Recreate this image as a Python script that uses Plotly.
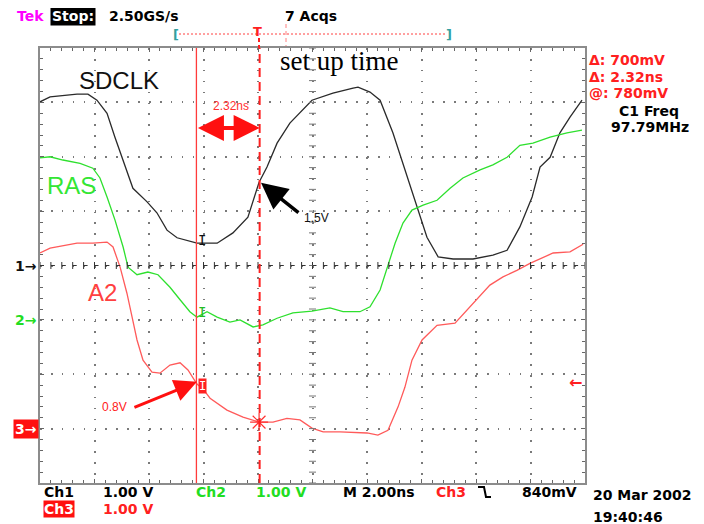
import numpy as np
import plotly.graph_objects as go

# ---------------- data (time in ns, voltage in V; 2 ns/div, 1 V/div) ----------------
t_sdclk = [0, 0.37, 1.36, 1.76, 2.09, 2.46, 2.75, 3.12, 3.41, 3.93, 4.29, 4.66, 5.03, 5.76, 6.50,
           7.08, 7.63, 8.04, 8.33, 8.70, 9.17, 9.98, 10.75, 11.49, 11.67, 12.11, 12.48, 12.95,
           13.47, 13.83, 14.20, 14.61, 15.16, 15.89, 16.62, 17.14, 17.61, 18.06, 18.35, 18.72,
           19.08, 19.45, 19.89]
v_sdclk = [3.01, 3.10, 3.15, 3.15, 3.04, 2.80, 2.36, 1.81, 1.42, 1.17, 0.97, 0.65, 0.51, 0.41, 0.41,
           0.60, 0.89, 1.53, 1.81, 2.25, 2.62, 3.04, 3.17, 3.26, 3.28, 3.19, 3.04, 2.44,
           1.63, 1.08, 0.52, 0.16, 0.12, 0.12, 0.19, 0.28, 0.71, 1.26, 1.81, 1.99,
           2.44, 2.73, 3.04]

t_ras = [0, 0.37, 0.84, 1.47, 1.94, 2.20, 2.46, 2.75, 3.05, 3.23, 3.56, 3.96, 4.33, 4.77, 5.14,
         5.50, 5.76, 6.13, 6.50, 6.97, 7.34, 7.82, 8.18, 8.70, 9.28, 9.98, 10.64, 11.12, 11.74,
         12.11, 12.48, 12.77, 13.03, 13.32, 13.65, 14.06, 14.57, 15.05, 15.52, 16.15, 16.62,
         17.14, 17.61, 18.09, 18.72, 19.34, 19.89]
v_ras = [2.98, 3.00, 2.94, 2.88, 2.79, 2.61, 2.26, 1.84, 1.34, 0.97, 0.83, 0.88, 0.83, 0.60, 0.37,
         0.15, 0.05, 0.15, 0.05, -0.04, 0.00, -0.13, -0.09, 0.03, 0.13, 0.16, 0.22, 0.15, 0.15,
         0.24, 0.55, 1.01, 1.41, 1.78, 2.02, 2.11, 2.20, 2.42, 2.61, 2.76, 2.85,
         2.99, 3.21, 3.25, 3.36, 3.44, 3.49]

t_a2 = [0, 0.37, 1.36, 1.94, 2.46, 2.68, 2.94, 3.19, 3.38, 3.56, 3.78, 4.11, 4.40, 4.77, 5.14,
        5.43, 5.76, 5.98, 6.24, 6.86, 7.45, 8.04, 8.55, 9.06, 9.54, 9.98, 10.39, 11.01, 12.00,
        12.40, 12.77, 13.14, 13.39, 13.65, 14.02, 14.57, 15.23, 15.89, 16.51, 16.99, 17.50,
        17.98, 18.83, 19.45, 19.93]
v_a2 = [3.23, 3.32, 3.41, 3.41, 3.43, 3.34, 2.97, 2.49, 2.05, 1.63, 1.26, 1.04, 1.02, 1.17, 1.21,
        1.08, 0.82, 0.73, 0.56, 0.34, 0.21, 0.12, 0.12, 0.19, 0.16, 0.01, -0.06, -0.06, -0.08,
        -0.12, -0.03, 0.40, 0.76, 1.26, 1.63, 1.90, 1.94, 2.31, 2.64, 2.79, 2.91,
        3.04, 3.23, 3.25, 3.39]

# channel ground positions (divisions from centre), 1 V/div
ch_offsets = {"SDCLK": 0, "RAS": -1, "A2": -3}
cursor_t = [5.74, 8.06]
trigger_level = 0.84

# ---------------- styles ----------------
C_BLACK = "#2a2a2a"
C_GREEN = "#2ee02e"
C_RED = "#ff5a5a"
SCOPE = "DejaVu Sans"
SANS = "Liberation Sans"

fig = go.Figure()

series = [("SDCLK", t_sdclk, v_sdclk, C_BLACK),
          ("RAS", t_ras, v_ras, C_GREEN),
          ("A2", t_a2, v_a2, C_RED)]
for name, t, v, col in series:
    off = ch_offsets[name]
    fig.add_trace(go.Scatter(x=t, y=[vi + off for vi in v], mode="lines", name=name,
                             line=dict(color=col, width=1.3), hoverinfo="skip", showlegend=False))

# centre crosshair tick marks
hx = np.arange(0, 20.001, 0.4)
fig.add_trace(go.Scatter(x=hx, y=[0] * len(hx), mode="markers", hoverinfo="skip", showlegend=False,
                         marker=dict(symbol="line-ns", size=5, color="#333", line=dict(color="#333", width=1))))
vy = np.arange(-4, 4.001, 0.2)
fig.add_trace(go.Scatter(x=[10] * len(vy), y=vy, mode="markers", hoverinfo="skip", showlegend=False,
                         marker=dict(symbol="line-ew", size=5, color="#777", line=dict(color="#777", width=1))))

# asterisk marker on A2 at second cursor
fig.add_trace(go.Scatter(x=[8.04], y=[0.12 + ch_offsets["A2"]], mode="markers", hoverinfo="skip",
                         showlegend=False,
                         marker=dict(symbol="asterisk-open", size=15, color="#ff3030",
                                     line=dict(color="#ff3030", width=1.2))))

# The page body has an 8px margin, so the figure is 8px smaller and everything is
# laid out in page pixels relative to the plot frame (40..585 x 48..483).
OFF = 8


def PX(px):
    return (px - 40) / 545.0


def PY(py):
    return (483 - py) / 435.0


ann = []


def ptxt(text, px, py, size=14, color="black", family=SCOPE, anchor="center", bg=None, bold=True, pad=0):
    ann.append(dict(text=("<b>%s</b>" % text) if bold else text, xref="paper", yref="paper",
                    x=PX(px), y=PY(py), xanchor=anchor, yanchor="middle", showarrow=False,
                    font=dict(size=size, color=color, family=family),
                    bgcolor=bg, borderpad=pad))


def dtxt(text, x, y, size=14, color="black", family=SANS, bg=None, bold=False):
    ann.append(dict(text=("<b>%s</b>" % text) if bold else text, xref="x", yref="y",
                    x=x, y=y, xanchor="center", yanchor="middle", showarrow=False,
                    font=dict(size=size, color=color, family=family), bgcolor=bg, borderpad=0))


# top status line
ptxt("Tek", 30, 16, size=14, color="#ff00ff")
ptxt("Stop:", 73, 16, size=14, color="white", bg="black", pad=1)
ptxt("2.50GS/s", 144, 16, size=14)
ptxt("7 Acqs", 311, 16, size=14)
ptxt("[", 176, 34, size=13, color="#33a0a0")
ptxt("]", 449, 34, size=13, color="#33a0a0")
ptxt("T", 257, 31, size=13, color="#ff2020")

# right readouts
ptxt("Δ: 700mV", 588, 60, size=14, color="#ff2020", anchor="left")
ptxt("Δ: 2.32ns", 588, 77, size=14, color="#ff2020", anchor="left")
ptxt("@: 780mV", 588, 93, size=14, color="#ff2020", anchor="left")
ptxt("C1 Freq", 649, 111, size=14)
ptxt("97.79MHz", 650, 127, size=14)

# bottom readouts
ptxt("Ch1", 43, 492, size=14, anchor="left")
ptxt("1.00 V", 102, 492, size=14, anchor="left")
ptxt("Ch2", 195, 492, size=14, color="#22dd22", anchor="left")
ptxt("1.00 V", 255, 492, size=14, color="#22dd22", anchor="left")
ptxt("M 2.00ns", 342, 492, size=14, anchor="left")
ptxt("Ch3", 435, 492, size=14, color="#ff2020", anchor="left")
ptxt("840mV", 521, 492, size=14, anchor="left")
ptxt("20 Mar 2002", 592, 495, size=14, anchor="left")
ptxt("19:40:46", 592, 517, size=14, anchor="left")
ptxt("Ch3", 43, 509, size=14, color="white", bg="#ff1010", anchor="left")
ptxt("1.00 V", 102, 509, size=14, color="#ff2020", anchor="left")

# channel ground markers (left) and trigger level (right)
for lab, off, col, bg in [("1→", 0, "#111", None), ("2→", -1, "#22dd22", None), ("3→", -3, "white", "#ff1010")]:
    ann.append(dict(text="<b>%s</b>" % lab, xref="paper", yref="y", x=0, y=off, xanchor="right",
                    yanchor="middle", xshift=-1, showarrow=False, bgcolor=bg, borderpad=1,
                    font=dict(size=14, color=col, family=SCOPE)))
ann.append(dict(text="<b>←</b>", xref="paper", yref="y", x=1, y=ch_offsets["A2"] + trigger_level,
                xanchor="right", yanchor="middle", xshift=-1, showarrow=False,
                font=dict(size=16, color="#ff2020", family=SCOPE)))

# trace labels
dtxt("SDCLK", 2.90, 3.41, size=24, color="#111")
dtxt("RAS", 1.14, 1.48, size=24, color="#33e633")
dtxt("A2", 2.28, -0.49, size=24, color="#ff4040")
dtxt("set up time", 10.97, 3.76, size=27, color="black", family="Liberation Serif")
dtxt("2.32ns", 7.01, 2.93, size=12, color="#ff3030")
dtxt("1.5V", 10.13, 0.87, size=12, color="#111")
dtxt("0.8V", 2.75, -2.60, size=12, color="#ff2020")

# cursor readout marks
dtxt("I", 5.94, 0.47, size=14, color="#111", family="DejaVu Sans Mono")
dtxt("I", 5.94, -0.85, size=14, color="#22bb22", family="DejaVu Sans Mono")
dtxt("I", 5.98, -2.21, size=12, color="white", family="DejaVu Sans Mono", bg="#ff2020")

# arrows
ann.append(dict(x=8.11, y=1.52, ax=9.54, ay=0.95, xref="x", yref="y", axref="x", ayref="y", text="",
                showarrow=True, arrowhead=2, arrowsize=1.5, arrowwidth=3.5, arrowcolor="black"))
ann.append(dict(x=5.76, y=-2.14, ax=3.41, ay=-2.62, xref="x", yref="y", axref="x", ayref="y", text="",
                showarrow=True, arrowhead=2, arrowsize=1.5, arrowwidth=3, arrowcolor="#ff1010"))
ann.append(dict(x=cursor_t[1], y=2.53, ax=cursor_t[0], ay=2.53, xref="x", yref="y", axref="x", ayref="y",
                text="", showarrow=True, arrowhead=2, startarrowhead=2, arrowside="end+start",
                arrowsize=1.3, startarrowsize=1.3, arrowwidth=4, arrowcolor="#ff1010"))

shapes = [
    # centre horizontal crosshair (dashed black)
    dict(type="line", xref="x", yref="y", x0=0, x1=20, y0=0, y1=0,
         line=dict(color="#333", width=1.2, dash="4px,6.9px")),
    # cursors
    dict(type="line", xref="x", yref="y", x0=cursor_t[0], x1=cursor_t[0], y0=-4, y1=4,
         line=dict(color="#ff3b3b", width=1.3)),
    dict(type="line", xref="x", yref="y", x0=cursor_t[1], x1=cursor_t[1], y0=-4, y1=4,
         line=dict(color="#ff2020", width=2, dash="9px,5px")),
    # record bracket line at top
    dict(type="line", xref="paper", yref="paper", x0=PX(179), x1=PX(447), y0=PY(34), y1=PY(34),
         line=dict(color="#ff4040", width=1, dash="2px,2px")),
    dict(type="line", xref="paper", yref="paper", x0=PX(286), x1=PX(286), y0=PY(24), y1=PY(46),
         line=dict(color="#ff8080", width=1, dash="4px,3px")),
    dict(type="line", xref="paper", yref="paper", x0=PX(259), x1=PX(259), y0=PY(38), y1=PY(48),
         line=dict(color="#ff2020", width=2, dash="4px,3px")),
    # falling-edge trigger symbol
    dict(type="path", xref="paper", yref="paper",
         path="M %f,%f L %f,%f L %f,%f L %f,%f" % (PX(478), PY(487), PX(484), PY(487),
                                                    PX(486), PY(497), PX(491), PY(497)),
         line=dict(color="black", width=2)),
]

axis_common = dict(showgrid=True, gridcolor="#7a7a7a", gridwidth=1.6, griddash="1.6px,9.3px",
                   zeroline=False, showline=True, linecolor="#8c8c8c", linewidth=2, mirror="allticks",
                   ticks="inside", ticklen=4, tickcolor="#666", showticklabels=False, fixedrange=True)

fig.update_layout(
    width=704 - OFF, height=524 - OFF,
    margin=dict(l=40 - OFF, r=119, t=48 - OFF, b=41),
    paper_bgcolor="white", plot_bgcolor="white",
    xaxis=dict(range=[0, 20], dtick=2, tick0=0,
               minor=dict(dtick=0.4, ticks="inside", ticklen=3, tickcolor="#666", showgrid=False),
               **axis_common),
    yaxis=dict(range=[-4, 4], dtick=1, tick0=0,
               minor=dict(dtick=0.2, ticks="inside", ticklen=3, tickcolor="#666", showgrid=False),
               **axis_common),
    annotations=ann, shapes=shapes, showlegend=False,
)

fig.write_html("out.html")
